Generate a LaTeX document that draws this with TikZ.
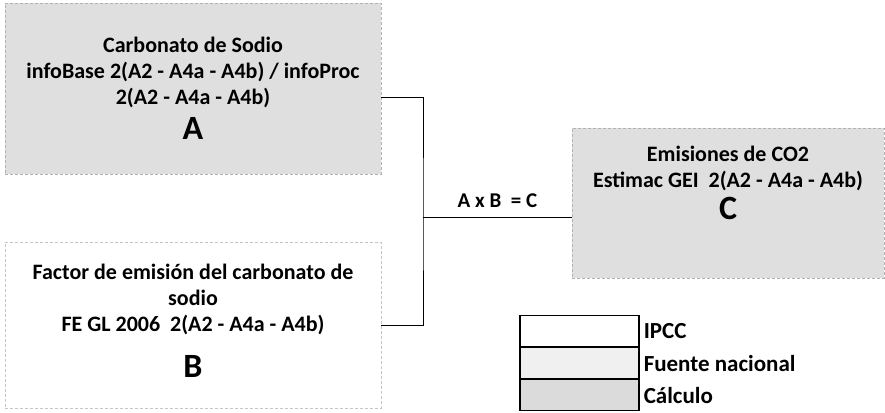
\documentclass[tikz,border=0pt]{standalone}
\usepackage{fontspec}
\setmainfont{Carlito}
\usetikzlibrary{positioning,calc}
\tikzset{
  blk/.style={draw,rectangle,align=center,inner sep=0pt,font=\fontsize{22}{26}\selectfont\bfseries},
  natblk/.style={blk,fill=gray!25,draw=gray!60,densely dashed},
  ipcblk/.style={blk,fill=white,draw=gray!45,densely dashed},
  calblk/.style={blk,fill=gray!25,draw=gray!60,densely dashed},
  conn/.style={draw=black,line width=0.9pt},
  eqlbl/.style={font=\fontsize{21}{24}\selectfont\bfseries,inner sep=1pt},
  lgbox/.style={draw=black,line width=1.1pt,minimum width=119pt,minimum height=31pt,inner sep=0pt},
  lgtxt/.style={font=\fontsize{23}{26}\selectfont\bfseries,inner sep=0pt,anchor=west}
}
\newcommand{\bigltr}[1]{{\fontsize{34}{36}\selectfont #1}}

\begin{document}
\begin{tikzpicture}[x=1pt,y=1pt,node distance=0pt and 4pt]
  \useasboundingbox (0,0) rectangle (885,-412);

  \node[natblk, minimum width=376pt, minimum height=171pt] (nA) at (193,-88.5)
    {Carbonato de Sodio\\infoBase 2(A2 - A4a - A4b) / infoProc\\2(A2 - A4a - A4b)\\[9pt]\bigltr{A}};
  \node[ipcblk, minimum width=376pt, minimum height=166pt, text depth=8pt] (nB) at (193,-325)
    {Factor de emisión del carbonato de\\sodio\\FE GL 2006~ 2(A2 - A4a - A4b)\\[20pt]\bigltr{B}};
  \node[calblk, minimum width=312pt, minimum height=150pt, text depth=40pt] (nC) at (728,-203)
    {Emisiones de CO2\\Estimac GEI~ 2(A2 - A4a - A4b)\\[6pt]\bigltr{C}};

  % lines joining the boxes
  \coordinate (aout) at ($(nA.east)+(0,-8.5)$);
  \coordinate (bus) at (423,-217);
  \draw[conn] (aout) -| (bus) |- (nB.east);
  \draw[conn] (bus) -- (bus -| nC.west);
  \node[eqlbl, above=8pt of $(bus)!0.5!(bus -| nC.west)$] (eq) {A x B~ = C};

  % legend
  \node[lgbox, fill=white] (lgIPCC) at (579.5,-331) {};
  \node[lgbox, fill=gray!12, below=of lgIPCC] (lgNac) {};
  \node[lgbox, fill=gray!28, below=of lgNac] (lgCalc) {};
  \node[lgtxt, right=of lgIPCC] (tIPCC) {IPCC};
  \node[lgtxt, right=of lgNac] (tNac) {Fuente nacional};
  \node[lgtxt, right=of lgCalc] (tCalc) {Cálculo};
\end{tikzpicture}
\end{document}
